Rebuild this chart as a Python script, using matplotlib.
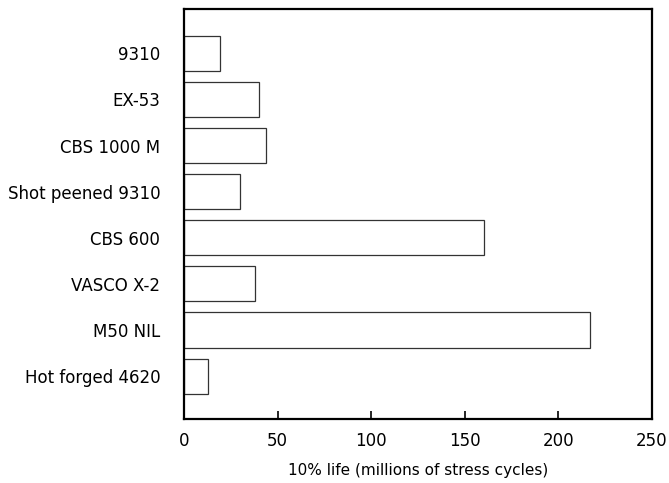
import numpy as np
import matplotlib.pyplot as plt

plt.rcParams['font.family'] = ['DejaVu Sans']

# materials, top to bottom as in the chart
materials = ['9310', 'EX-53', 'CBS 1000 M', 'Shot peened 9310',
             'CBS 600', 'VASCO X-2', 'M50 NIL', 'Hot forged 4620']
life_10pct = [19, 40, 44, 30, 160, 38, 217, 13]
x_ticks = [0, 50, 100, 150, 200, 250]

fig = plt.figure(figsize=(6.69, 4.83), dpi=100)
ax = fig.add_axes([0.275, 0.1325, 0.6996, 0.8489])

pos = np.arange(len(materials))[::-1]
ax.barh(pos, life_10pct, height=0.76, color='white', edgecolor='#333333',
        linewidth=0.9)

ax.set_xlim(0, 250)
ax.set_ylim(-0.93, 7.96)
ax.set_xticks(x_ticks)
ax.set_yticks(pos)
ax.set_yticklabels(materials, fontsize=12)
ax.tick_params(axis='y', length=0, pad=17)
ax.tick_params(axis='x', direction='in', length=6, width=1.2, labelsize=12,
               pad=9, top=False)
ax.set_xlabel('10% life (millions of stress cycles)', fontsize=11, labelpad=10)

for s in ax.spines.values():
    s.set_linewidth(1.6)

fig.savefig('out.png', dpi=100)
